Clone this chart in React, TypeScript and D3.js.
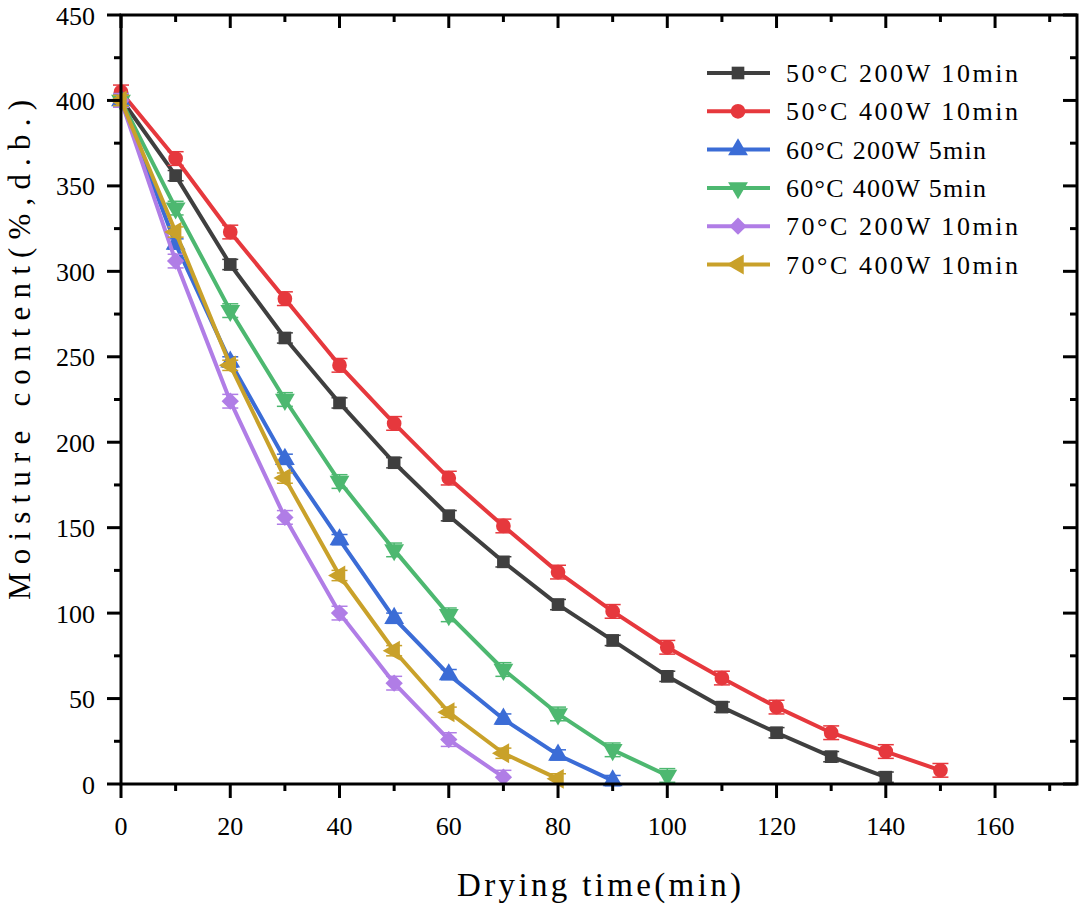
import * as d3 from "d3";

const TIME_A = [0, 10, 20, 30, 40, 50, 60, 70, 80, 90, 100, 110, 120, 130, 140];
const TIME_B = [0, 10, 20, 30, 40, 50, 60, 70, 80, 90, 100, 110, 120, 130, 140, 150];
const TIME_C = [0, 10, 20, 30, 40, 50, 60, 70, 80, 90];
const TIME_D = [0, 10, 20, 30, 40, 50, 60, 70, 80, 90, 100];
const TIME_E = [0, 10, 20, 30, 40, 50, 60, 70];
const TIME_F = [0, 10, 20, 30, 40, 50, 60, 70, 80];

const S50_200 = [401, 356, 304, 261, 223, 188, 157, 130, 105, 84, 63, 45, 30, 16, 4];
const S50_400 = [405, 366, 323, 284, 245, 211, 179, 151, 124, 101, 80, 62, 45, 30, 19, 8];
const S60_200 = [400, 316, 247, 190, 143, 97, 64, 38, 17, 2];
const S60_400 = [400, 337, 277, 225, 177, 137, 99, 67, 41, 20, 5];
const S70_200 = [400, 306, 224, 156, 100, 59, 26, 4];
const S70_400 = [400, 323, 245, 179, 122, 78, 42, 18, 3];

const ERRORS = [3, 4, 3, 4, 4, 3];

const LABELS = [
  "50°C 200W 10min",
  "50°C 400W 10min",
  "60°C 200W 5min",
  "60°C 400W 5min",
  "70°C 200W 10min",
  "70°C 400W 10min",
];
const COLORS = ["#3f3f3f", "#e6383d", "#3b6cd6", "#4db870", "#b07de6", "#c9a12a"];

const X_TICKS = [0, 20, 40, 60, 80, 100, 120, 140, 160];
const Y_TICKS = [0, 50, 100, 150, 200, 250, 300, 350, 400, 450];

const times = [TIME_A, TIME_B, TIME_C, TIME_D, TIME_E, TIME_F];
const values = [S50_200, S50_400, S60_200, S60_400, S70_200, S70_400];

const W = 1080;
const H = 908;
const left = 121;
const right = 1077;
const top = 15;
const bottom = 784;
const FONT = '"Liberation Serif", "DejaVu Serif", serif';

const x = d3.scaleLinear().domain([0, 175]).range([left, right]);
const y = d3.scaleLinear().domain([0, 450]).range([bottom, top]);

// marker shapes: square, circle, up, down, diamond, left
const shapes: { type: d3.SymbolType; size: number; rotate: number }[] = [
  { type: d3.symbolSquare, size: 160, rotate: 0 },
  { type: d3.symbolCircle, size: 170, rotate: 0 },
  { type: d3.symbolTriangle, size: 170, rotate: 0 },
  { type: d3.symbolTriangle, size: 170, rotate: 180 },
  { type: d3.symbolSquare, size: 150, rotate: 45 },
  { type: d3.symbolTriangle, size: 170, rotate: -90 },
];

function Marker({ i, cx, cy }: { i: number; cx: number; cy: number }) {
  const s = shapes[i];
  const path = d3.symbol().type(s.type).size(s.size)() ?? "";
  return (
    <path
      d={path}
      fill={COLORS[i]}
      transform={`translate(${cx},${cy}) rotate(${s.rotate})`}
    />
  );
}

export default function App() {
  const line = d3
    .line<[number, number]>()
    .x((d) => x(d[0]))
    .y((d) => y(d[1]));

  const minorX = d3.range(10, 175, 20);
  const minorY = d3.range(25, 450, 50);

  return (
    <svg
      width={W}
      height={H}
      style={{ position: "absolute", left: 0, top: 0, background: "#fff", fontFamily: FONT }}
    >
      <rect width={W} height={H} fill="#fff" />

      {/* series */}
      {values.map((vals, i) => {
        const pts = vals.map((v, k) => [times[i][k], v] as [number, number]);
        return (
          <g key={i}>
            <path
              d={line(pts) ?? ""}
              fill="none"
              stroke={COLORS[i]}
              strokeWidth={4}
              strokeLinejoin="round"
            />
            {pts.map((p, k) => {
              const cx = x(p[0]);
              const y1 = y(p[1] + ERRORS[i]);
              const y2 = y(p[1] - ERRORS[i]);
              return (
                <g key={k} stroke={COLORS[i]} strokeWidth={1.5}>
                  <line x1={cx} x2={cx} y1={y1} y2={y2} />
                  <line x1={cx - 8} x2={cx + 8} y1={y1} y2={y1} />
                  <line x1={cx - 8} x2={cx + 8} y1={y2} y2={y2} />
                </g>
              );
            })}
            {pts.map((p, k) => (
              <Marker key={k} i={i} cx={x(p[0])} cy={y(p[1])} />
            ))}
          </g>
        );
      })}

      {/* frame */}
      <rect
        x={left}
        y={top}
        width={right - left}
        height={bottom - top}
        fill="none"
        stroke="#000"
        strokeWidth={3}
      />

      {/* ticks */}
      <g stroke="#000" strokeWidth={3}>
        {X_TICKS.map((t) => (
          <g key={t}>
            <line x1={x(t)} x2={x(t)} y1={bottom} y2={bottom + 14} />
            <line x1={x(t)} x2={x(t)} y1={top} y2={top + 13} />
          </g>
        ))}
        {minorX.map((t) => (
          <g key={t}>
            <line x1={x(t)} x2={x(t)} y1={bottom} y2={bottom + 7} />
            <line x1={x(t)} x2={x(t)} y1={top} y2={top + 7} />
          </g>
        ))}
        {Y_TICKS.map((t) => (
          <g key={t}>
            <line x1={left - 14} x2={left} y1={y(t)} y2={y(t)} />
            <line x1={right - 14} x2={right} y1={y(t)} y2={y(t)} />
          </g>
        ))}
        {minorY.map((t) => (
          <g key={t}>
            <line x1={left - 7} x2={left} y1={y(t)} y2={y(t)} />
            <line x1={right - 7} x2={right} y1={y(t)} y2={y(t)} />
          </g>
        ))}
      </g>

      {/* tick labels */}
      <g fontSize={26} fill="#000">
        {X_TICKS.map((t) => (
          <text key={t} x={x(t)} y={835} textAnchor="middle">
            {t}
          </text>
        ))}
        {Y_TICKS.map((t) => (
          <text key={t} x={95} y={y(t) + 9.5} textAnchor="end">
            {t}
          </text>
        ))}
      </g>

      {/* axis titles */}
      <text
        x={599}
        y={896}
        fontSize={33}
        textAnchor="middle"
        textLength={284}
        lengthAdjust="spacing"
      >
        Drying time(min)
      </text>
      <text
        transform={`translate(30,350) rotate(-90)`}
        fontSize={31}
        textAnchor="middle"
        textLength={500}
        lengthAdjust="spacing"
      >
        Moisture content(%,d.b.)
      </text>

      {/* legend */}
      {LABELS.map((lab, i) => {
        const ly = 73 + i * 38.3;
        return (
          <g key={lab}>
            <line x1={707} x2={770} y1={ly} y2={ly} stroke={COLORS[i]} strokeWidth={4} />
            <Marker i={i} cx={738} cy={ly} />
            <text
              x={786}
              y={ly + 9}
              fontSize={26}
              textLength={lab.length === 15 ? 232 : 200}
              lengthAdjust="spacing"
            >
              {lab}
            </text>
          </g>
        );
      })}
    </svg>
  );
}
